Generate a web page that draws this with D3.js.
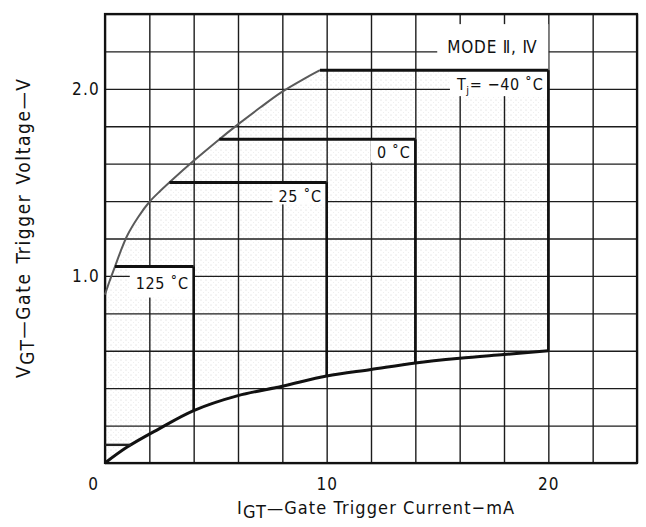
<!DOCTYPE html>
<html>
<head>
<meta charset="utf-8">
<script src="https://cdn.jsdelivr.net/npm/d3@7/dist/d3.min.js"></script>
<style>
body { margin: 0; background: #fff; }
text { font-family: "DejaVu Sans Condensed", "Liberation Sans Narrow", "Liberation Sans", sans-serif; fill: #111; }
</style>
</head>
<body>
<svg id="chart"></svg>
<script>
var width = 646,
    height = 527;

var margin = {top: 14, right: 9, bottom: 64, left: 105};
var w = width - margin.left - margin.right,
    h = height - margin.top - margin.bottom;

// upper limit curve (max VGT vs IGT)
var upperI = [0, 0.2, 0.45, 0.7, 1, 1.5, 2, 2.5, 3, 4, 5, 6, 7, 8, 9, 9.7];
var upperV = [0.9, 0.97, 1.05, 1.13, 1.215, 1.315, 1.395, 1.455, 1.51, 1.615, 1.715, 1.81, 1.90, 1.985, 2.055, 2.1];

// lower limit curve
var lowerI = [0, 1, 2.4, 4, 6, 8, 10, 12, 14, 16, 18, 20];
var lowerV = [0, 0.085, 0.18, 0.28, 0.36, 0.41, 0.465, 0.50, 0.535, 0.56, 0.58, 0.60];

// temperature boxes
var tempNames = ["-40", "0", "25", "125"];
var tempV = [2.1, 1.73, 1.50, 1.05];
var tempI = [20, 14, 10, 4];

var gateVmin = 0.097;

var xTicks = [0, 10, 20];
var yTicks = [1.0, 2.0];
var xGrid = d3.range(0, 25, 2);
var yGrid = d3.range(0, 2.41, 0.2);

var x = d3.scaleLinear().domain([0, 24]).range([0, w]);
var y = d3.scaleLinear().domain([0, 2.4]).range([h, 0]);

var svg = d3.select("#chart")
    .attr("width", width)
    .attr("height", height);

var defs = svg.append("defs");
var pat = defs.append("pattern")
    .attr("id", "dots")
    .attr("width", 5)
    .attr("height", 5)
    .attr("patternUnits", "userSpaceOnUse");
pat.append("circle").attr("cx", 1).attr("cy", 1).attr("r", 0.55).attr("fill", "#999");
pat.append("circle").attr("cx", 3.5).attr("cy", 3.5).attr("r", 0.45).attr("fill", "#bbb");

var g = svg.append("g")
    .attr("transform", "translate(" + margin.left + "," + margin.top + ")");

var upperPts = upperI.map((d, i) => [d, upperV[i]]);
var lowerPts = lowerI.map((d, i) => [d, lowerV[i]]);

var line = d3.line().x(d => x(d[0])).y(d => y(d[1])).curve(d3.curveCatmullRom.alpha(0.5));

// stippled zone between the limits
var zone = upperPts.concat([[tempI[0], tempV[0]]], lowerPts.slice().reverse());
g.append("path")
    .attr("d", d3.line().x(d => x(d[0])).y(d => y(d[1]))(zone) + "Z")
    .attr("fill", "url(#dots)")
    .attr("opacity", 0.5);

// grid
g.append("g")
    .call(d3.axisBottom(x).tickValues(xGrid).tickSize(h).tickFormat(""))
    .call(s => s.select(".domain").remove())
    .selectAll("line").attr("stroke", "#1c1c1c").attr("stroke-width", 1.4);
g.append("g")
    .call(d3.axisLeft(y).tickValues(yGrid).tickSize(-w).tickFormat(""))
    .call(s => s.select(".domain").remove())
    .selectAll("line").attr("stroke", "#1c1c1c").attr("stroke-width", 1.4);

g.append("rect")
    .attr("width", w).attr("height", h)
    .attr("fill", "none").attr("stroke", "#111").attr("stroke-width", 2.2);

// tick labels
g.append("g")
    .attr("transform", "translate(0," + h + ")")
    .call(d3.axisBottom(x).tickValues(xTicks).tickSize(0).tickPadding(15).tickFormat(d3.format("d")))
    .call(s => s.select(".domain").remove())
    .selectAll("text")
        .attr("font-size", 17)
        .attr("letter-spacing", 1)
        .attr("dx", d => d === 0 ? -12 : 0)
        .style("font-family", null);
g.append("g")
    .call(d3.axisLeft(y).tickValues(yTicks).tickSize(0).tickPadding(5).tickFormat(d3.format(".1f")))
    .call(s => s.select(".domain").remove())
    .selectAll("text")
        .attr("font-size", 17)
        .attr("letter-spacing", 1.2)
        .style("font-family", null);

var boxLayer = g.append("g");
var curveLayer = g.append("g");
var labelLayer = g.append("g");

var upperAt = d3.scaleLinear().domain(upperV).range(upperI);
var lowerAt = d3.scaleLinear().domain(lowerI).range(lowerV);
var lowerInv = d3.scaleLinear().domain(lowerV).range(lowerI);

var labelDrop = [20, 19, 20, 22];
var boxH = [26, 23, 22, 31];

// temperature labels with white boxes hiding the grid
tempNames.forEach(function(name, i) {
    var xr = x(tempI[i]), yt = y(tempV[i]);
    var t = labelLayer.append("text")
        .attr("x", xr - 5)
        .attr("y", yt + labelDrop[i])
        .attr("text-anchor", "end")
        .attr("font-size", 16)
        .attr("letter-spacing", 0.6);
    if (i === 0) {
        t.append("tspan").text("T");
        t.append("tspan").attr("font-size", 11).attr("dy", 4).text("j");
        t.append("tspan").attr("dy", -4).text("= \u221240 \u02daC");
    } else {
        t.text(name + " \u02daC");
    }
    var bb = t.node().getBBox();
    boxLayer.append("rect")
        .attr("x", bb.x - 6)
        .attr("y", yt)
        .attr("width", xr - bb.x + 6)
        .attr("height", boxH[i])
        .attr("fill", "#fff");
});

// mode label
var mode = labelLayer.append("text")
    .attr("x", x(tempI[0]) - 11)
    .attr("y", y(tempV[0]) - 17)
    .attr("text-anchor", "end")
    .attr("font-size", 17)
    .attr("letter-spacing", 0.8)
    .text("MODE \u2161, \u2163");
var mb = mode.node().getBBox();
boxLayer.append("rect")
    .attr("x", mb.x - 10)
    .attr("y", y(tempV[0]) - 46)
    .attr("width", mb.width + 21)
    .attr("height", 46)
    .attr("fill", "#fff");

// curves
curveLayer.append("path")
    .attr("d", line(upperPts))
    .attr("fill", "none").attr("stroke", "#5a5a5a").attr("stroke-width", 2);
curveLayer.append("path")
    .attr("d", line(lowerPts))
    .attr("fill", "none").attr("stroke", "#111").attr("stroke-width", 3);

// temperature boundaries
tempNames.forEach(function(name, i) {
    var x0 = upperAt(tempV[i]);
    curveLayer.append("line")
        .attr("x1", x(x0)).attr("x2", x(tempI[i]))
        .attr("y1", y(tempV[i])).attr("y2", y(tempV[i]))
        .attr("stroke", "#111").attr("stroke-width", 3);
    curveLayer.append("line")
        .attr("x1", x(tempI[i])).attr("x2", x(tempI[i]))
        .attr("y1", y(tempV[i])).attr("y2", y(lowerAt(tempI[i])))
        .attr("stroke", "#111").attr("stroke-width", 2.6);
});

// minimum gate voltage stub
curveLayer.append("line")
    .attr("x1", x(0)).attr("x2", x(lowerInv(gateVmin)))
    .attr("y1", y(gateVmin)).attr("y2", y(gateVmin))
    .attr("stroke", "#222").attr("stroke-width", 2.4);

// axis titles
var xt = svg.append("text")
    .attr("x", 237)
    .attr("y", 514)
    .attr("font-size", 18)
    .attr("letter-spacing", 1.1);
xt.append("tspan").text("I");
xt.append("tspan").attr("dy", 4).text("GT");
xt.append("tspan").attr("dy", -4).text("\u2014Gate  Trigger  Current\u2212mA");

var yt = svg.append("text")
    .attr("transform", "translate(30,378) rotate(-90)")
    .attr("font-size", 19)
    .attr("letter-spacing", 1.6)
    .attr("word-spacing", 2);
yt.append("tspan").text("V");
yt.append("tspan").attr("dy", 4).text("GT");
yt.append("tspan").attr("dy", -4).text("\u2014Gate  Trigger  Voltage\u2014V");
</script>
</body>
</html>
